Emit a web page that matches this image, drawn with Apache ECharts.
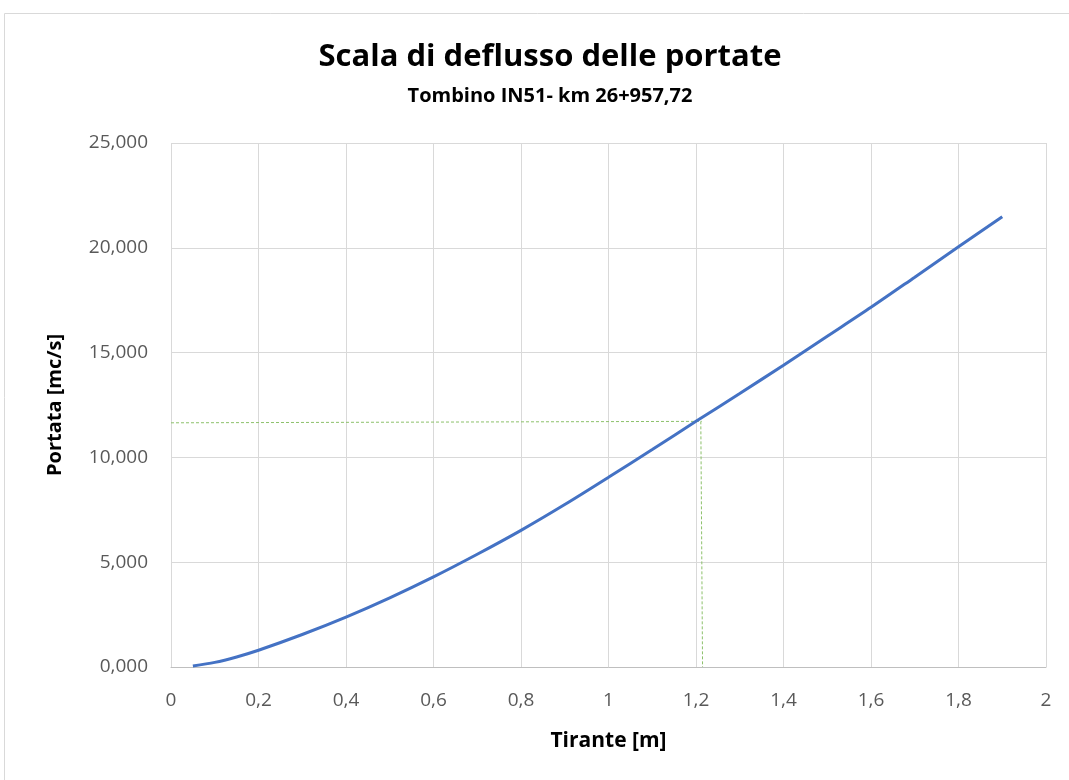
<!DOCTYPE html>
<html>
<head>
<meta charset="utf-8">
<script src="https://cdn.jsdelivr.net/npm/echarts@6/dist/echarts.min.js"></script>
<style>html,body{margin:0;padding:0;background:#fff}#c{width:1069px;height:780px}</style>
</head>
<body>
<div id="c"></div>
<script>
const tirante = [0.05, 0.1, 0.15, 0.2, 0.3, 0.4, 0.5, 0.6, 0.7, 0.8, 0.9, 1.0, 1.1, 1.2, 1.3, 1.4, 1.5, 1.6, 1.7, 1.8, 1.9];
const portata = [0.05, 0.22, 0.48, 0.80, 1.55, 2.38, 3.30, 4.30, 5.38, 6.52, 7.75, 9.05, 10.38, 11.72, 13.05, 14.40, 15.78, 17.16, 18.60, 20.05, 21.48];
const refH_x = [0, 1.213];
const refH_y = [11.65, 11.72];
const refV_x = [1.211, 1.215];
const refV_y = [11.72, 0];

const chart = echarts.init(document.getElementById('c'));
const fmtY = v => v.toFixed(3).replace('.', ',');
const fmtX = v => String(Math.round(v * 10) / 10).replace('.', ',');
chart.setOption({
  animation: false,
  graphic: [{
    type: 'rect', shape: {x: 4.5, y: 13.5, width: 1200, height: 900},
    style: {fill: 'none', stroke: '#d9d9d9', lineWidth: 1}, silent: true
  }],
  title: {
    text: 'Scala di deflusso delle portate',
    subtext: 'Tombino IN51- km 26+957,72',
    left: 545, textAlign: 'center', top: 37, itemGap: 13,
    textStyle: {fontFamily: 'Open Sans', fontWeight: 'bold', fontSize: 31, color: '#000'},
    subtextStyle: {fontFamily: 'Open Sans', fontWeight: 'bold', fontSize: 20, color: '#000'}
  },
  grid: {left: 171, right: 23, top: 143, bottom: 113},
  xAxis: {
    type: 'value', min: 0, max: 2, interval: 0.2,
    name: 'Tirante [m]', nameLocation: 'middle', nameGap: 64,
    nameTextStyle: {fontFamily: 'Open Sans', fontWeight: 'bold', fontSize: 21, color: '#000'},
    axisLine: {show: true, lineStyle: {color: '#bfbfbf'}},
    axisTick: {show: false},
    axisLabel: {formatter: fmtX, fontFamily: 'Open Sans', fontSize: 19, color: '#595959', margin: 24},
    splitLine: {show: true, lineStyle: {color: '#d9d9d9'}}
  },
  yAxis: {
    type: 'value', min: 0, max: 25, interval: 5,
    name: 'Portata [mc/s]', nameLocation: 'middle', nameGap: 106, nameRotate: 90,
    nameTextStyle: {fontFamily: 'Open Sans', fontWeight: 'bold', fontSize: 20, color: '#000'},
    axisLine: {show: false},
    axisTick: {show: false},
    axisLabel: {formatter: fmtY, fontFamily: 'Open Sans', fontSize: 19, color: '#595959', margin: 23},
    splitLine: {show: true, lineStyle: {color: '#d9d9d9'}}
  },
  series: [
    {
      type: 'line', data: tirante.map((x, i) => [x, portata[i]]),
      smooth: 0.3, showSymbol: false, lineStyle: {color: '#4472c4', width: 3}, z: 3
    },
    {
      type: 'line', data: refH_x.map((x, i) => [x, refH_y[i]]),
      showSymbol: false, lineStyle: {color: '#8cc06a', width: 1, type: [3, 2]}, z: 2
    },
    {
      type: 'line', data: refV_x.map((x, i) => [x, refV_y[i]]),
      showSymbol: false, lineStyle: {color: '#8cc06a', width: 1, type: [3, 2]}, z: 2
    }
  ]
});
</script>
</body>
</html>
